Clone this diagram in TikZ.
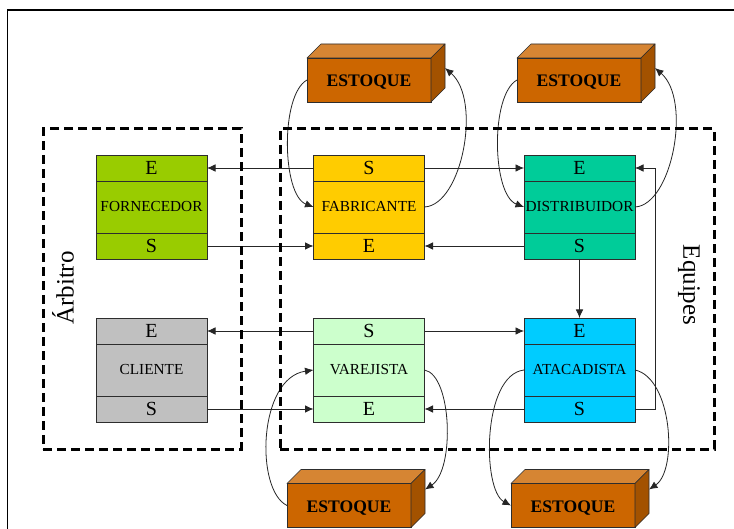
\documentclass[tikz,border=0pt]{standalone}
\usepackage{fontspec}
\setmainfont{Liberation Serif}
\usetikzlibrary{arrows.meta}
\definecolor{cforn}{RGB}{153,204,0}
\definecolor{cfab}{RGB}{255,204,0}
\definecolor{cdist}{RGB}{0,204,153}
\definecolor{ccli}{RGB}{192,192,192}
\definecolor{cvar}{RGB}{204,255,204}
\definecolor{cata}{RGB}{0,204,255}
\definecolor{estfront}{RGB}{204,102,0}
\definecolor{esttop}{RGB}{214,133,51}
\definecolor{estside}{RGB}{163,82,0}
\definecolor{boxline}{RGB}{45,45,45}
\begin{document}
\begin{tikzpicture}[x=1pt,y=-1pt,
 part/.style={draw=boxline, line width=0.8pt, minimum width=111pt, minimum height=26pt, inner sep=0pt, outer sep=0pt, font=\fontsize{20}{20}\selectfont},
 mid/.style={part, minimum height=52pt, font=\fontsize{15.3}{16}\selectfont},
 est/.style={draw=boxline, fill=estfront, line width=0.6pt, minimum width=124pt, minimum height=44pt, inner sep=0pt, outer sep=0pt, text height=14pt, text depth=0pt, font=\bfseries\fontsize{17.6}{18}\selectfont},
 estface/.style={draw=boxline, line width=0.6pt, line join=round},
 grp/.style={draw, line width=3pt, dash pattern=on 9pt off 5pt, inner sep=0pt, outer sep=0pt},
 grptext/.style={font=\fontsize{25}{25}\selectfont, inner sep=0pt},
 conn/.style={draw=black!85, line width=0.8pt},
 arr/.style={conn, -{Latex[length=8.5pt,width=7.5pt]}}
]
\useasboundingbox (0,0) rectangle (734,529);
\fill[white] (0,0) rectangle (734,529);
% outer frame
\draw[line width=1.2pt] (734,10) -- (7.5,10) -- (7.5,529);

% FORNECEDOR
\node[part, fill=cforn] (fornT) at (151.5,168) {E};
\node[mid, fill=cforn] (forn) at (151.5,207) {FORNECEDOR};
\node[part, fill=cforn] (fornB) at (151.5,246) {S};
% CLIENTE
\node[part, fill=ccli] (cliT) at (151.5,331) {E};
\node[mid, fill=ccli] (cli) at (151.5,370) {CLIENTE};
\node[part, fill=ccli] (cliB) at (151.5,409) {S};
% FABRICANTE
\node[part, fill=cfab] (fabT) at (369,168) {S};
\node[mid, fill=cfab] (fab) at (369,207) {FABRICANTE};
\node[part, fill=cfab] (fabB) at (369,246) {E};
% DISTRIBUIDOR
\node[part, fill=cdist] (distT) at (579.5,168) {E};
\node[mid, fill=cdist] (dist) at (579.5,207) {DISTRIBUIDOR};
\node[part, fill=cdist] (distB) at (579.5,246) {S};
% VAREJISTA
\node[part, fill=cvar] (varT) at (369,331) {S};
\node[mid, fill=cvar] (var) at (369,370) {VAREJISTA};
\node[part, fill=cvar] (varB) at (369,409) {E};
% ATACADISTA
\node[part, fill=cata] (ataT) at (579.5,331) {E};
\node[mid, fill=cata] (ata) at (579.5,370) {ATACADISTA};
\node[part, fill=cata] (ataB) at (579.5,409) {S};

% ESTOQUE boxes
\foreach \n/\px/\py/\d in {e1/369/80/14, e2/579/80/14, e3/349/505.5/14, e4/573/505.5/14}{
  \node[est] (\n) at (\px,\py) {ESTOQUE};
  \filldraw[estface, fill=esttop] (\n.north west) -- ++(\d,-\d) -- ++(124,0) -- (\n.north east) -- cycle;
  \filldraw[estface, fill=estside] (\n.north east) -- ++(\d,-\d) -- ++(0,44) -- (\n.south east) -- cycle;
}
\coordinate (e1r) at ([shift={(14,-12)}]e1.east);
\coordinate (e2r) at ([shift={(14,-12)}]e2.east);
\coordinate (e3r) at ([shift={(14,-16)}]e3.east);
\coordinate (e4r) at ([shift={(14,-16)}]e4.east);

% straight connectors
\draw[arr] (fabT.west) -- (fornT.east);
\draw[arr] (fornB.east) -- (fabB.west);
\draw[arr] (fabT.east) -- (distT.west);
\draw[arr] (distB.west) -- (fabB.east);
\draw[arr] (distB.south) -- (ataT.north);
\draw[arr] (ataB.east) -- ++(20,0) |- (distT.east);
\draw[arr] (varT.west) -- (cliT.east);
\draw[arr] (cliB.east) -- (varB.west);
\draw[arr] (varT.east) -- (ataT.west);
\draw[arr] (ataB.west) -- (varB.east);

% curved stock connectors
\draw[arr] (e1.west) .. controls (280,95) and (282,195) .. (fab.west);
\draw[arr] (fab.east) .. controls (462,205) and (482,100) .. (e1r);
\draw[arr] (e2.west) .. controls (490,95) and (492,195) .. (dist.west);
\draw[arr] (dist.east) .. controls (672,205) and (692,100) .. (e2r);
\draw[arr] (e3.west) .. controls (255,490) and (258,378) .. (var.west);
\draw[arr] (var.east) .. controls (452,375) and (455,470) .. (e3r);
\draw[arr] (ata.west) .. controls (482,375) and (482,490) .. (e4.west);
\draw[arr] (ata.east) .. controls (672,378) and (678,470) .. (e4r);

% group boxes
\node[grp, minimum width=198pt, minimum height=320pt] (arbbox) at (142,289) {};
\node[grp, minimum width=434pt, minimum height=320pt] (eqbox) at (497,289) {};
\node[grptext, rotate=90] (arb) at (63,288) {Árbitro};
\node[grptext, rotate=-90] (eq) at (689,285) {Equipes};
\end{tikzpicture}
\end{document}
